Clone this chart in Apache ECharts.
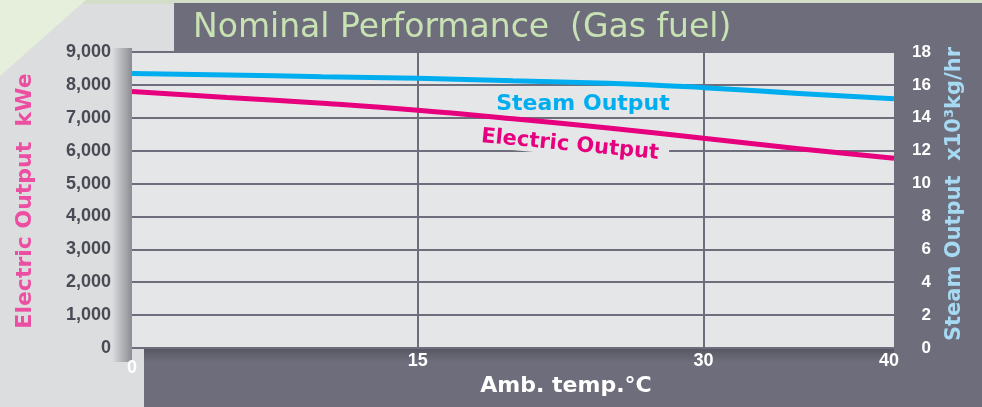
<!DOCTYPE html>
<html>
<head>
<meta charset="utf-8">
<script src="https://cdn.jsdelivr.net/npm/echarts@6/dist/echarts.min.js"></script>
<style>
  html, body { margin: 0; padding: 0; background: #dcdddf; }
  #chart { width: 982px; height: 407px; }
</style>
</head>
<body>
<div id="chart"></div>
<script>
// Ambient temperature (°C)
const temps = [0, 5, 10, 15, 20, 25, 30, 35, 40];
// Electric output (kWe)
const electricKWe = [7800, 7620, 7440, 7230, 6970, 6690, 6380, 6060, 5770];
// Steam output (x10^3 kg/hr)
const steamOutput = [16.7, 16.6, 16.5, 16.4, 16.25, 16.1, 15.83, 15.48, 15.15];
// Axis tick values
const tempTicks = [0, 15, 30, 40];
// Interior vertical grid lines
const tempGridLines = [15, 30];

const titleText = 'Nominal Performance  (Gas fuel)';
const PANEL = '#6e6d7b';
const PLOT = '#e5e6e8';

const chart = echarts.init(document.getElementById('chart'), null, { renderer: 'canvas' });

const W = 982, H = 407;

chart.setOption({
  backgroundColor: '#dcdddf',
  animation: false,
  grid: {
    left: 132, right: 88, top: 52, bottom: 59,
    show: true, backgroundColor: PLOT, borderWidth: 0
  },
  xAxis: {
    type: 'value', min: 0, max: 40, interval: 15, z: 3,
    axisLine: { show: false }, axisTick: { show: false },
    splitLine: { show: false },
    axisLabel: {
      customValues: tempTicks,
      margin: 4,
      color: '#ffffff', fontFamily: 'Liberation Sans', fontWeight: 'bold', fontSize: 18,
      formatter: v => v === 0 ? '{z|0}' : (v === 40 ? '{e|40}' : String(v)),
      rich: {
        z: { color: '#ffffff', fontFamily: 'Liberation Sans', fontWeight: 'bold', fontSize: 18, padding: [7, 0, 0, 0] },
        e: { color: '#ffffff', fontFamily: 'Liberation Sans', fontWeight: 'bold', fontSize: 18, padding: [0, 10, 0, 0] }
      }
    }
  },
  yAxis: [
    {
      type: 'value', min: 0, max: 9000, interval: 1000, z: 3,
      axisLine: { show: false }, axisTick: { show: false },
      splitLine: { show: true, lineStyle: { color: PANEL, width: 2 } },
      axisLabel: {
        margin: 21, color: '#4a4a55', fontFamily: 'Liberation Sans', fontWeight: 'bold', fontSize: 18,
        formatter: v => v.toLocaleString('en-US')
      }
    },
    {
      type: 'value', min: 0, max: 18, interval: 2, position: 'right', z: 3,
      axisLine: { show: false }, axisTick: { show: false }, splitLine: { show: false },
      axisLabel: {
        margin: 37, align: 'right', color: '#ffffff', fontFamily: 'Liberation Sans', fontWeight: 'bold', fontSize: 17
      }
    }
  ],
  series: [
    {
      // vertical grid lines at the interior temperature ticks
      name: 'grid', type: 'line', data: [], z: 3, silent: true,
      markLine: {
        silent: true, symbol: 'none', animation: false,
        label: { show: false },
        lineStyle: { color: PANEL, width: 2, type: 'solid' },
        data: tempGridLines.map(t => ({ xAxis: t }))
      }
    },
    {
      name: 'Steam Output', type: 'line', yAxisIndex: 1, smooth: true, symbol: 'none', z: 5,
      lineStyle: { color: '#00aeef', width: 5 },
      data: temps.map((t, i) => [t, steamOutput[i]])
    },
    {
      name: 'Electric Output', type: 'line', yAxisIndex: 0, smooth: true, symbol: 'none', z: 5,
      lineStyle: { color: '#e6007e', width: 5 },
      data: temps.map((t, i) => [t, electricKWe[i]])
    }
  ],
  graphic: [
    // light green corner and top strip
    { type: 'rect', z: -10, shape: { x: 0, y: 0, width: W, height: 4 }, style: { fill: '#d4ddc9' } },
    { type: 'polygon', z: -10, shape: { points: [[0, 0], [86, 0], [0, 76]] }, style: { fill: '#e5efdb' } },
    // dark panel behind title, right axis and bottom axis
    { type: 'rect', z: -9, shape: { x: 174, y: 3, width: W - 174, height: H - 3 }, style: { fill: PANEL } },
    { type: 'rect', z: -9, shape: { x: 144, y: 340, width: 40, height: H - 340 }, style: { fill: PANEL } },
    // shadow along the left edge of the plot
    {
      type: 'rect', z: -8, shape: { x: 112, y: 48, width: 20, height: 314 },
      style: { fill: new echarts.graphic.LinearGradient(0, 0, 1, 0, [
        { offset: 0, color: 'rgba(60,60,70,0)' }, { offset: 1, color: 'rgba(60,60,70,0.5)' }]) }
    },
    // shadow under the plot
    {
      type: 'rect', z: -8, shape: { x: 144, y: 348, width: 750, height: 14 },
      style: { fill: new echarts.graphic.LinearGradient(0, 0, 0, 1, [
        { offset: 0, color: 'rgba(40,40,50,0.35)' }, { offset: 1, color: 'rgba(40,40,50,0)' }]) }
    },
    // title
    {
      type: 'text', z: 10, x: 193, y: 28,
      style: { text: titleText, fill: '#c8e2b3', font: '33px "DejaVu Sans"', textVerticalAlign: 'middle' }
    },
    // series labels
    {
      type: 'text', z: 10, x: 583, y: 104,
      style: { text: 'Steam Output', fill: '#00aeef', font: 'bold 22px "DejaVu Sans"', textAlign: 'center', textVerticalAlign: 'middle' }
    },
    {
      type: 'text', z: 10, x: 570, y: 145, rotation: -0.095,
      style: {
        text: 'Electric Output', fill: '#e6007e', font: 'bold 21px "DejaVu Sans"',
        textAlign: 'center', textVerticalAlign: 'middle',
        backgroundColor: PLOT, padding: [0, 10]
      }
    },
    // axis names
    {
      type: 'text', z: 10, x: 25, y: 201, rotation: Math.PI / 2,
      style: { text: 'Electric Output  kWe', fill: '#ec4fa2', font: 'bold 22px "DejaVu Sans"', textAlign: 'center', textVerticalAlign: 'middle' }
    },
    {
      type: 'text', z: 10, x: 955, y: 194, rotation: Math.PI / 2,
      style: { text: 'Steam Output  x10³kg/hr', fill: '#a6d9f2', font: 'bold 21px "DejaVu Sans"', textAlign: 'center', textVerticalAlign: 'middle' }
    },
    {
      type: 'text', z: 10, x: 566, y: 386,
      style: { text: 'Amb. temp.°C', fill: '#ffffff', font: 'bold 22px "DejaVu Sans"', textAlign: 'center', textVerticalAlign: 'middle' }
    }
  ]
});
</script>
</body>
</html>
